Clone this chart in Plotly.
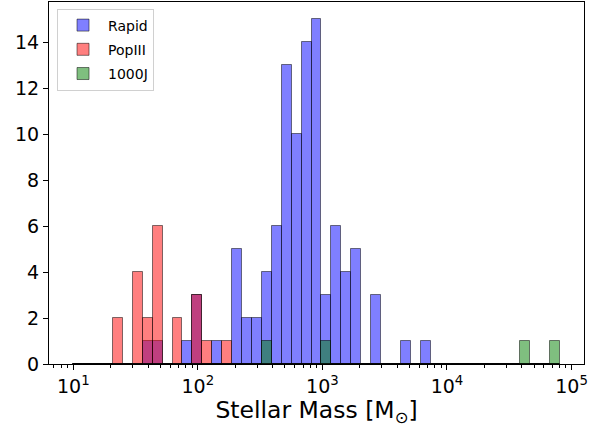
import numpy as np
import plotly.graph_objects as go

# Histogram bin edges (log10 of stellar mass), 49 equal log-width bins
LOG_LO = 1.0
LOG_HI = 4.905
N_BINS = 49

# Counts per bin
rapid = [0, 0, 0, 0, 0, 0, 0, 1, 1, 0,
         0, 1, 3, 0, 1, 0, 5, 2, 2, 4,
         6, 13, 10, 14, 15, 3, 6, 4, 5, 0,
         3, 0, 0, 1, 0, 1, 0, 0, 0, 0,
         0, 0, 0, 0, 0, 0, 0, 0, 0]
popiii = [0, 0, 0, 0, 2, 0, 4, 2, 6, 0,
          2, 0, 3, 1, 0, 1, 0, 0, 0, 0,
          0, 0, 0, 0, 0, 0, 0, 0, 0, 0,
          0, 0, 0, 0, 0, 0, 0, 0, 0, 0,
          0, 0, 0, 0, 0, 0, 0, 0, 0]
j1000 = [0, 0, 0, 0, 0, 0, 0, 0, 0, 0,
         0, 0, 0, 0, 0, 0, 0, 0, 0, 1,
         0, 0, 0, 0, 0, 1, 0, 0, 0, 0,
         0, 0, 0, 0, 0, 0, 0, 0, 0, 0,
         0, 0, 0, 0, 0, 1, 0, 0, 1]

series_names = ["Rapid", "PopIII", "1000J"]
series_colors = ["rgba(0,0,255,0.5)", "rgba(255,0,0,0.5)", "rgba(0,128,0,0.5)"]

major_exps = [1, 2, 3, 4, 5]

edges = np.linspace(LOG_LO, LOG_HI, N_BINS + 1)
centers = 0.5 * (edges[:-1] + edges[1:])
width = edges[1] - edges[0]

fig = go.Figure()
for name, counts, color in zip(series_names, [rapid, popiii, j1000], series_colors):
    fig.add_trace(go.Bar(
        x=centers, y=counts, width=width, name=name, legendgroup=name,
        marker=dict(color=color, line=dict(color="rgba(0,0,0,0.5)", width=1)),
    ))

minor_vals = [np.log10(k * 10 ** d) for d in range(0, 5) for k in range(2, 10)]
minor_vals = [v for v in minor_vals if 0.805 < v < 5.1]

font = "DejaVu Sans"
fig.update_layout(
    width=601, height=427,
    margin=dict(l=49, r=17, t=2, b=63),
    barmode="overlay",
    bargap=0,
    plot_bgcolor="white", paper_bgcolor="white",
    font=dict(family=font, color="black", size=19),
    showlegend=True,
    legend=dict(
        x=0.015, y=0.982, xanchor="left", yanchor="top",
        bgcolor="white", bordercolor="#d0d0d0", borderwidth=1,
        font=dict(size=14, family=font),
        itemwidth=40,
        tracegroupgap=3,
    ),
    xaxis=dict(
        range=[0.805, 5.1],
        tickmode="array",
        tickvals=major_exps,
        ticktext=[f"10<sup>{e}</sup>" for e in major_exps],
        ticks="outside", ticklen=5, tickwidth=1, tickcolor="black",
        showline=True, linecolor="black", linewidth=1, mirror=True,
        showgrid=False, zeroline=False,
        minor=dict(tickvals=minor_vals, ticks="outside", ticklen=3,
                   tickwidth=1, tickcolor="black", showgrid=False),
        title=dict(text="Stellar Mass [M<sub>⊙</sub>]", font=dict(size=23.5), standoff=2),
        tickfont=dict(size=19),
    ),
    yaxis=dict(
        range=[0, 15.75],
        tickmode="array",
        tickvals=list(range(0, 16, 2)),
        ticks="outside", ticklen=5, tickwidth=1, tickcolor="black",
        showline=True, linecolor="black", linewidth=1, mirror=True,
        showgrid=False, zeroline=False,
        tickfont=dict(size=19),
    ),
)

fig.write_html("out.html")
